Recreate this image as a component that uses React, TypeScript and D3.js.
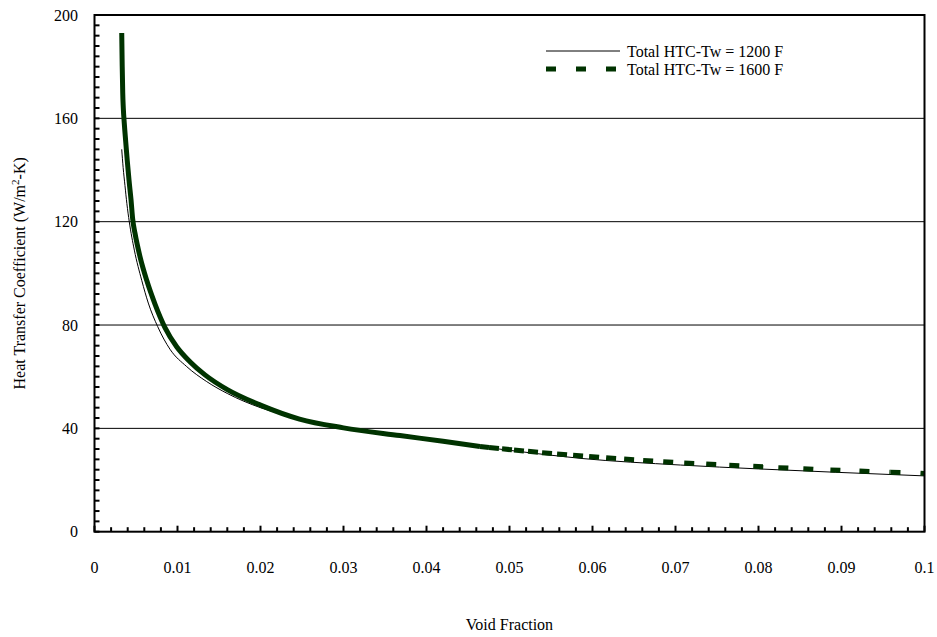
import React from "react";
import * as d3 from "d3";

const W = 937;
const H = 637;
const M = { left: 94.5, right: 924.5, top: 15, bottom: 531.7 };

const xTickValues = [0, 0.01, 0.02, 0.03, 0.04, 0.05, 0.06, 0.07, 0.08, 0.09, 0.1];
const xTickLabels = ["0", "0.01", "0.02", "0.03", "0.04", "0.05", "0.06", "0.07", "0.08", "0.09", "0.1"];
const yTickValues = [0, 40, 80, 120, 160, 200];
const yTickLabels = ["0", "40", "80", "120", "160", "200"];

const seriesNames = ["Total HTC-Tw = 1200 F", "Total HTC-Tw = 1600 F"];

// Series 1: Tw = 1200 F
const htc1200X = [0.00328, 0.00345, 0.00367, 0.0039, 0.00419, 0.0048, 0.00569, 0.00648, 0.00761, 0.0091, 0.01111, 0.01352, 0.016, 0.02, 0.0247, 0.03, 0.0368, 0.042, 0.05, 0.0585, 0.0706, 0.08, 0.0893, 0.1];
const htc1200Y = [148, 141, 134, 127, 120, 109, 97.3, 88.5, 79.4, 70.6, 63.9, 58.1, 53.5, 48, 43.8, 40.2, 36.9, 34.7, 31.5, 28.4, 25.8, 24.3, 23.0, 21.6];

// Series 2: Tw = 1600 F
const htc1600X = [0.00328, 0.00334, 0.0034, 0.00347, 0.00359, 0.00376, 0.00395, 0.00416, 0.0044, 0.0046, 0.00488, 0.00548, 0.0063, 0.0073, 0.00849, 0.0099, 0.0115, 0.01331, 0.016, 0.02, 0.0247, 0.03, 0.0368, 0.042,
  0.04644, 0.04753, 0.0491, 0.05054, 0.05223, 0.05392, 0.05573, 0.05766, 0.05959, 0.06164, 0.06381, 0.0661, 0.06852, 0.07105, 0.0737, 0.07648, 0.07937, 0.08239, 0.0854, 0.08866, 0.09216, 0.0959, 0.09952, 0.1];
const htc1600Y = [193, 180, 170, 164, 158, 151, 143.5, 136, 128.5, 121, 115.5, 106.5, 97.2, 88, 79, 71.6, 65.8, 60.7, 55, 49, 43.6, 40.2, 37.2, 35,
  33.0, 32.6, 32.1, 31.6, 31.1, 30.6, 30.1, 29.6, 29.1, 28.6, 28.1, 27.6, 27.1, 26.6, 26.2, 25.7, 25.3, 24.8, 24.4, 23.9, 23.5, 23.0, 22.6, 22.5];

const FONT = "'Liberation Serif', 'Times New Roman', serif";
const GREEN = "#003300";

export default function App() {
  const x = d3.scaleLinear().domain([0, 0.1]).range([M.left, M.right]);
  const y = d3.scaleLinear().domain([0, 200]).range([M.bottom, M.top]);

  const line = d3
    .line<[number, number]>()
    .x((d) => x(d[0]))
    .y((d) => y(d[1]))
    .curve(d3.curveMonotoneX);

  const pts1200: [number, number][] = htc1200X.map((v, i) => [v, htc1200Y[i]]);
  const pts1600: [number, number][] = htc1600X.map((v, i) => [v, htc1600Y[i]]);
  const dashStart = 0.0464;
  const solid1600 = pts1600.filter((p) => p[0] <= dashStart + 1e-4);
  const dashed1600 = pts1600.filter((p) => p[0] >= dashStart);

  const xMinor = d3.range(0, 51).map((i) => i * 0.002);
  const yMinor = d3.range(0, 51).map((i) => i * 4);

  return (
    <svg width={W} height={H} style={{ position: "absolute", left: 0, top: 0, background: "#fff" }} fontFamily={FONT}>
      <rect x={0} y={0} width={W} height={H} fill="#fff" />
      {/* gridlines */}
      {yTickValues.filter((v) => v > 0 && v < 200).map((v) => (
        <line key={"g" + v} x1={M.left} x2={M.right} y1={y(v)} y2={y(v)} stroke="#000" strokeWidth={1} />
      ))}
      {/* series 1200 */}
      <path d={line(pts1200) || ""} fill="none" stroke="#000" strokeWidth={1} />
      {/* series 1600 */}
      <path d={line(solid1600) || ""} fill="none" stroke={GREEN} strokeWidth={5} />
      {dashed1600.slice(0, -1).map((p, i) => {
        const q = dashed1600[i + 1];
        return (
          <line key={"d" + i} x1={x(p[0])} y1={y(p[1])} x2={x(q[0])} y2={y(q[1])} stroke={GREEN} strokeWidth={5} strokeDasharray="10 20" />
        );
      })}
      {/* axis frame */}
      <rect x={M.left} y={M.top} width={M.right - M.left} height={M.bottom - M.top} fill="none" stroke="#000" strokeWidth={2} />
      {/* x ticks */}
      {xMinor.map((v, i) => (
        <line key={"xt" + i} x1={x(v)} x2={x(v)} y1={M.bottom} y2={M.bottom - (i % 5 === 0 ? 6 : 4.5)} stroke="#000" strokeWidth={2} />
      ))}
      {/* y ticks */}
      {yMinor.map((v, i) => (
        <line key={"yt" + i} x1={M.left} x2={M.left + 5} y1={y(v)} y2={y(v)} stroke="#000" strokeWidth={2} />
      ))}
      {/* x labels */}
      {xTickValues.map((v, i) => (
        <text key={"xl" + i} x={x(v)} y={573} textAnchor="middle" fontSize={16} fill="#000">
          {xTickLabels[i]}
        </text>
      ))}
      {/* y labels */}
      {yTickValues.map((v, i) => (
        <text key={"yl" + i} x={78} y={y(v) + 5.5} textAnchor="end" fontSize={16} fill="#000">
          {yTickLabels[i]}
        </text>
      ))}
      {/* axis titles */}
      <text x={(M.left + M.right) / 2} y={630} textAnchor="middle" fontSize={16} fill="#000">
        Void Fraction
      </text>
      <text transform={`translate(25, ${(M.top + M.bottom) / 2}) rotate(-90)`} textAnchor="middle" fontSize={16} fill="#000">
        Heat Transfer Coefficient (W/m<tspan dy={-6} fontSize={11}>2</tspan><tspan dy={6}>-K)</tspan>
      </text>
      {/* legend */}
      <line x1={546} x2={620} y1={51} y2={51} stroke="#000" strokeWidth={1} />
      <text x={627} y={56.5} fontSize={16} fill="#000">{seriesNames[0]}</text>
      <line x1={546} x2={620} y1={69} y2={69} stroke={GREEN} strokeWidth={5} strokeDasharray="10 20" />
      <text x={627} y={74.5} fontSize={16} fill="#000">{seriesNames[1]}</text>
    </svg>
  );
}
